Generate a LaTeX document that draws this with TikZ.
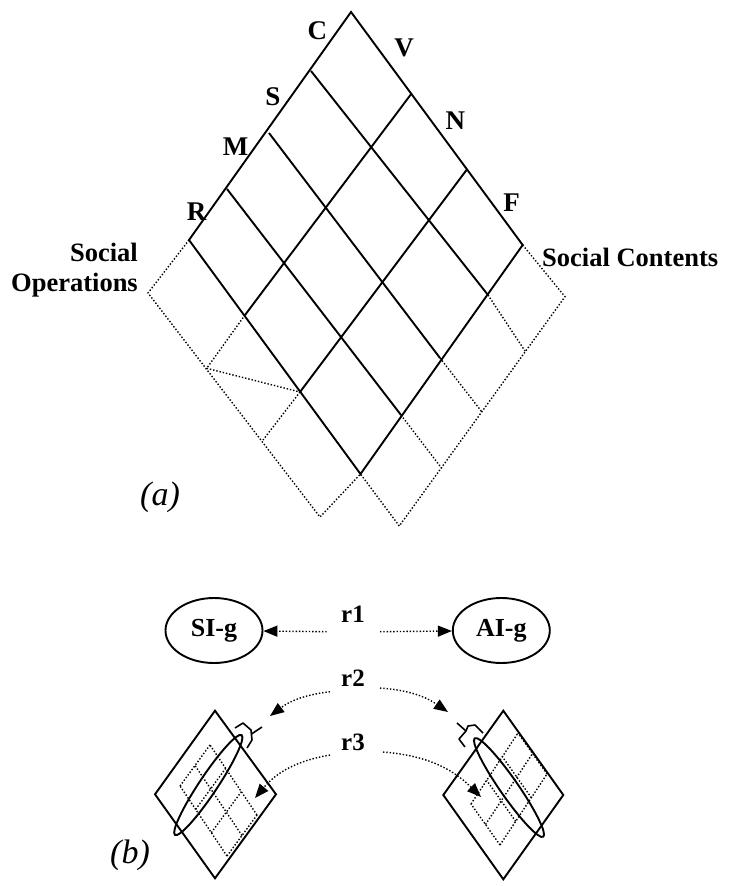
\documentclass[tikz,border=0pt]{standalone}
\usepackage{fontspec}
\setmainfont{Liberation Serif}
\usetikzlibrary{arrows.meta,shapes.geometric,calc}
\begin{document}
\begin{tikzpicture}[x=1pt,y=-1pt,
  gridline/.style={line width=1.9pt, line join=miter},
  dotline/.style={line width=1.4pt, dash pattern=on 1.4pt off 1.9pt},
  letter/.style={font=\fontsize{27}{30}\selectfont\bfseries, inner sep=0pt},
  caption/.style={font=\fontsize{26.5}{30}\selectfont\bfseries, inner sep=0pt},
  tag/.style={font=\fontsize{25}{29}\selectfont\bfseries, inner sep=0pt},
  group/.style={draw, ellipse, line width=1.9pt, minimum width=97pt, minimum height=65pt,
                inner sep=0pt, font=\fontsize{26}{30}\selectfont\bfseries},
  rel/.style={dotline, -{Triangle[length=14pt,width=11pt]}},
  panel/.style={font=\fontsize{34}{40}\selectfont\itshape, inner sep=0pt}
]
\useasboundingbox (0,0) rectangle (731,886);

% ---------- (a) lattice of social operations x social contents ----------
\coordinate (P00) at (351,12);
\coordinate (P10) at (311,71);
\coordinate (P20) at (269,133);
\coordinate (P30) at (227,189);
\coordinate (P40) at (189,240);
\coordinate (P01) at (411.7,93.3);
\coordinate (P02) at (467.3,169);
\coordinate (P03) at (522.7,245);
\coordinate (P13) at (488,295);
\coordinate (P23) at (440,358);
\coordinate (P33) at (401,415);
\coordinate (P43) at (360.5,474);
\coordinate (P41) at (245,315);
\coordinate (P42) at (300,392);
% dotted extension bands
\coordinate (L0) at (148,293);
\coordinate (L1) at (206.7,368.3);
\coordinate (L2) at (263,440);
\coordinate (L3) at (320,517);
\coordinate (R0) at (565,296.7);
\coordinate (R1) at (525,351);
\coordinate (R2) at (481.7,411.7);
\coordinate (R3) at (441.7,468.3);
\coordinate (R4) at (399.3,526);

\draw[gridline] (P40) -- (P00) -- (P03) -- (P43) -- cycle;
\draw[gridline] (P10) -- (P13);
\draw[gridline] (P20) -- (P23);
\draw[gridline] (P30) -- (P33);
\draw[gridline] (P01) -- (P41);
\draw[gridline] (P02) -- (P42);

\draw[dotline] (P40) -- (L0) -- (L3) -- (P43);
\draw[dotline] (P41) -- (L1);
\draw[dotline] (P42) -- (L2);
\draw[dotline] (L1) -- (P42);
\draw[dotline] (P03) -- (R0) -- (R4) -- (P43);
\draw[dotline] (P13) -- (R1);
\draw[dotline] (P23) -- (R2);
\draw[dotline] (P33) -- (R3);

\node[letter] (lC) at (317.3,30.3) {C};
\node[letter] (lS) at (273,97) {S};
\node[letter] (lM) at (235.7,146.7) {M};
\node[letter] (lR) at (196.7,211.7) {R};
\node[letter] (lV) at (404,48.3) {V};
\node[letter] (lN) at (455.3,120.7) {N};
\node[letter] (lF) at (511.7,202.3) {F};

\node[caption, anchor=base east] (ops1) at (138,261) {Social};
\node[caption, anchor=base east] (ops2) at (138,291) {Operations};
\node[caption, anchor=base west] (cont) at (542,266) {Social Contents};

\node[panel] (pa) at (160,497) {(a)};

% ---------- (b) groups and relations ----------
\node[group] (sig) at (214,630.5) {SI-g};
\node[group] (aig) at (501.3,630.5) {AI-g};

\node[tag] (r1) at (353,614) {r1};
\node[tag] (r2) at (353,678) {r2};
\node[tag] (r3) at (353,742) {r3};

\coordinate (r1l) at (326.7,631.7);
\coordinate (r1r) at (380,631.7);
\draw[rel] (r1l) -- (sig);
\draw[rel] (r1r) -- (aig);

% small lattices
\coordinate (dLt) at (215,710.7);
\coordinate (dLl) at (155,794.3);
\coordinate (dLb) at (215,878.3);
\coordinate (dLr) at (276,794.3);
\coordinate (dRt) at (503.3,710.7);
\coordinate (dRl) at (443.3,795);
\coordinate (dRb) at (503.3,879.3);
\coordinate (dRr) at (563.3,795);
\draw[gridline] (dLt) -- (dLl) -- (dLb) -- (dLr) -- cycle;
\draw[gridline] (dRt) -- (dRl) -- (dRb) -- (dRr) -- cycle;

% dotted inner grid, right lattice
\foreach \t in {0,1,2,3} {
  \draw[dotline] ($(500,845)!\t/3!(547,774)$) -- ++(-29,-41);
}
\foreach \s in {0,1,2} {
  \draw[dotline] ($(500,845)!\s/2!(471,804)$) -- ++(47,-71);
}
% dotted inner grid, left lattice
\foreach \t in {0,1,2,3} {
  \draw[dotline] ($(227,856)!\t/3!(180,786)$) -- ++(30,-41);
}
\foreach \s in {0,1,2} {
  \draw[dotline] ($(227,856)!\s/2!(257,815)$) -- ++(-47,-70);
}

% selection ellipses
\draw[gridline, rotate around={56.3:(208.3,785)}] (208.3,785) ellipse [x radius=60, y radius=9];
\draw[gridline, rotate around={-55.2:(509,787.5)}] (509,787.5) ellipse [x radius=60, y radius=9];

% brackets on the selections
\draw[line width=1.6pt, line join=round] (235,728) -- (243,723) -- (251,730) -- (252,740) -- (247,748);
\draw[line width=1.6pt] (251.5,734) -- (262,727);
\draw[line width=1.6pt, line join=round] (483,733) -- (475,725) -- (468,726) -- (466,731) -- (459,739) -- (465,747);
\draw[line width=1.6pt] (466,731) -- (457,723);

\coordinate (r2ls) at (330,691.7);
\coordinate (r2le) at (270,716);
\coordinate (r2rs) at (380,688);
\coordinate (r2re) at (448,712);
\coordinate (r3ls) at (330,755);
\coordinate (r3le) at (255,798);
\coordinate (r3rs) at (383,752);
\coordinate (r3re) at (481,797);
\draw[rel] (r2ls) to[bend right=15] (r2le);
\draw[rel] (r2rs) to[bend left=15] (r2re);
\draw[rel] (r3ls) to[bend right=20] (r3le);
\draw[rel] (r3rs) to[bend left=20] (r3re);

\node[panel] (pb) at (130,855) {(b)};
\end{tikzpicture}
\end{document}
